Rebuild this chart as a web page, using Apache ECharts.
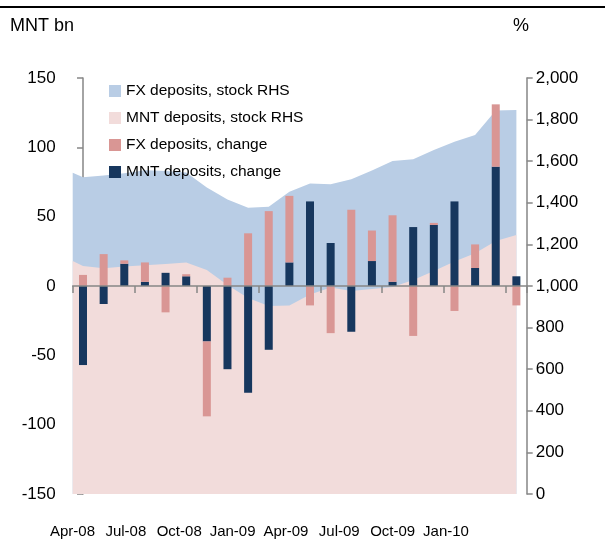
<!DOCTYPE html>
<html>
<head>
<meta charset="utf-8">
<script src="https://cdn.jsdelivr.net/npm/echarts@6/dist/echarts.min.js"></script>
<style>
  html, body { margin: 0; padding: 0; background: #fff; }
  #chart { width: 605px; height: 546px; }
</style>
</head>
<body>
<div id="chart"></div>
<script>
// months on the category axis
const months = ['Apr-08','May-08','Jun-08','Jul-08','Aug-08','Sep-08','Oct-08','Nov-08','Dec-08',
  'Jan-09','Feb-09','Mar-09','Apr-09','May-09','Jun-09','Jul-09','Aug-09','Sep-09','Oct-09',
  'Nov-09','Dec-09','Jan-10'];
const tickLabels = ['Apr-08','Jul-08','Oct-08','Jan-09','Apr-09','Jul-09','Oct-09','Jan-10'];

// monthly change, MNT bn (LHS)
const mntChange = [-57, -13, 16, 3, 9.5, 7, -40, -60, -77, -46, 17, 61, 31, -33, 18, 3, 42.5, 44, 61, 13, 86, 7];
const fxChange = [8, 23, 2.5, 14, -19, 1.5, -54, 6, 38, 54, 48, -14, -34, 55, 22, 48, -36, 1.5, -18, 17, 45, -14];

// deposit stocks (RHS); first value is the opening point at the left edge
const mntStock = [1120, 1096, 1085, 1094, 1100, 1106, 1113, 1077, 1005, 942, 904, 906, 959, 993, 976, 986, 995, 1029, 1072, 1118, 1157, 1216, 1245];
const fxStock = [425, 427, 446, 448, 456, 447, 433, 397, 411, 434, 477, 547, 534, 496, 537, 569, 606, 580, 582, 576, 569, 628, 601];

const FONT = '"Liberation Sans", Arial, sans-serif';
const axisGrey = '#868686';

// x position of each stock point (opening point sits on the axis edge)
const stockX = mntStock.map((v, i) => i === 0 ? -0.5 : i - 1);
const mntArea = mntStock.map((v, i) => [stockX[i], v]);
const totalArea = mntStock.map((v, i) => [stockX[i], v + fxStock[i]]);

const chart = echarts.init(document.getElementById('chart'));
chart.setOption({
  animation: false,
  backgroundColor: '#fff',
  textStyle: { fontFamily: FONT },
  graphic: [
    { type: 'line', shape: { x1: 0, y1: 7, x2: 605, y2: 7 }, style: { stroke: '#000', lineWidth: 2 } },
    { type: 'text', left: 10, top: 17, style: { text: 'MNT bn', font: '18px "Liberation Sans"', fill: '#000' } },
    { type: 'text', left: 513, top: 17, style: { text: '%', font: '18px "Liberation Sans"', fill: '#000' } }
  ],
  legend: {
    orient: 'vertical',
    left: 104,
    top: 76,
    itemWidth: 12,
    itemHeight: 12,
    itemGap: 7,
    icon: 'rect',
    textStyle: { fontFamily: FONT, fontSize: 15.5, color: '#000', lineHeight: 20 },
    data: ['FX deposits, stock RHS', 'MNT deposits, stock RHS', 'FX deposits, change', 'MNT deposits, change']
  },
  grid: [
    { left: 72.7, right: 78.3, top: 78, bottom: 52 },
    { left: 72.5, width: 373.5, top: 78, bottom: 52 }
  ],
  xAxis: [
    {
      type: 'category',
      gridIndex: 0,
      data: months,
      boundaryGap: true,
      axisLine: { onZero: true, lineStyle: { color: axisGrey, width: 1.5 } },
      axisTick: { show: true, alignWithLabel: false, interval: 2, length: 7, lineStyle: { color: axisGrey, width: 1.5 } },
      axisLabel: { show: false },
      z: 10
    },
    {
      type: 'value',
      gridIndex: 0,
      min: -0.5,
      max: 21.5,
      show: false
    },
    {
      type: 'category',
      gridIndex: 1,
      data: tickLabels,
      boundaryGap: false,
      axisLine: { show: false },
      axisTick: { show: false },
      axisLabel: { margin: 30, fontFamily: FONT, fontSize: 15, color: '#000', interval: 0 }
    }
  ],
  yAxis: [
    {
      type: 'value',
      gridIndex: 0,
      min: -150,
      max: 150,
      interval: 50,
      splitLine: { show: false },
      axisLine: { show: true, lineStyle: { color: axisGrey, width: 1.5 } },
      axisTick: { show: true, length: 6, lineStyle: { color: axisGrey, width: 1.5 } },
      axisLabel: { margin: 17, fontFamily: FONT, fontSize: 17, color: '#000' }
    },
    {
      type: 'value',
      gridIndex: 0,
      position: 'right',
      min: 0,
      max: 2000,
      interval: 200,
      splitLine: { show: false },
      axisLine: { show: true, lineStyle: { color: axisGrey, width: 1.5 } },
      axisTick: { show: true, length: 6, lineStyle: { color: axisGrey, width: 1.5 } },
      axisLabel: {
        margin: 9, fontFamily: FONT, fontSize: 17, color: '#000',
        formatter: v => v.toLocaleString('en-US')
      }
    },
    {
      type: 'value',
      gridIndex: 1,
      show: false
    }
  ],
  series: [
    {
      name: 'FX deposits, stock RHS',
      type: 'line',
      xAxisIndex: 1,
      yAxisIndex: 1,
      data: totalArea,
      symbol: 'none',
      lineStyle: { width: 0 },
      areaStyle: { color: '#b9cde5', opacity: 1 },
      itemStyle: { color: '#b9cde5' },
      z: 1
    },
    {
      name: 'MNT deposits, stock RHS',
      type: 'line',
      xAxisIndex: 1,
      yAxisIndex: 1,
      data: mntArea,
      symbol: 'none',
      lineStyle: { width: 0 },
      areaStyle: { color: '#f2dcdb', opacity: 1 },
      itemStyle: { color: '#f2dcdb' },
      z: 2
    },
    {
      name: 'MNT deposits, change',
      type: 'bar',
      xAxisIndex: 0,
      yAxisIndex: 0,
      stack: 'chg',
      barWidth: 8,
      data: mntChange,
      itemStyle: { color: '#17375e' },
      z: 3
    },
    {
      name: 'FX deposits, change',
      type: 'bar',
      xAxisIndex: 0,
      yAxisIndex: 0,
      stack: 'chg',
      barWidth: 8,
      data: fxChange,
      itemStyle: { color: '#d99694' },
      z: 3
    }
  ]
});
</script>
</body>
</html>
